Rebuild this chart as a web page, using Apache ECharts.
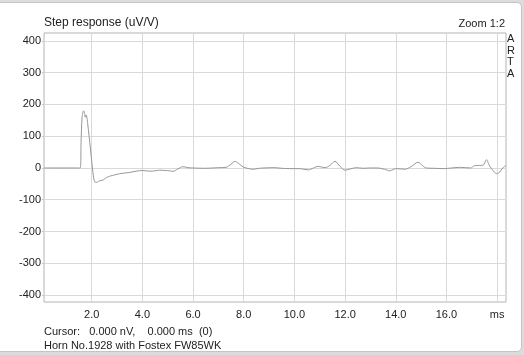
<!DOCTYPE html>
<html>
<head>
<meta charset="utf-8">
<script src="https://cdn.jsdelivr.net/npm/echarts@6/dist/echarts.min.js"></script>
<style>
  html, body { margin: 0; padding: 0; background: #dcdcdc; }
  #panel { position: absolute; left: -6px; top: 2px; width: 526px; height: 348px;
           background: #fff; border: 1px solid #c4c4c4; border-radius: 5px; }
  #main { position: absolute; left: 0; top: 0; width: 524px; height: 355px; }
</style>
</head>
<body>
<div id="panel"></div>
<div id="main"></div>
<script>
// step response, time in ms / amplitude in uV/V
var times = [0.117, 1.55, 1.58, 1.62, 1.68, 1.72, 1.74, 1.78, 1.84, 1.95, 2.05, 2.12, 2.2, 2.32, 2.45, 2.58,
  2.75, 2.9, 3.1, 3.3, 3.5, 3.76, 4.0, 4.29, 4.5, 4.68, 4.9, 5.08, 5.2, 5.4, 5.6, 5.8, 6.0, 6.5, 7.0, 7.3,
  7.5, 7.65, 7.8, 7.98, 8.2, 8.37, 8.6, 8.8, 9.2, 9.5, 9.8, 10.2, 10.55, 10.75, 10.94, 11.2, 11.4, 11.6,
  11.8, 12.0, 12.2, 12.45, 12.7, 12.97, 13.3, 13.55, 13.77, 14.0, 14.36, 14.6, 14.88, 15.05, 15.2, 15.5,
  15.9, 16.2, 16.55, 16.95, 17.1, 17.3, 17.45, 17.58, 17.68, 17.78, 17.9, 17.98, 18.1, 18.2, 18.35];
var values = [0, 0, 80, 160, 180, 172, 160, 167, 140, 60, -15, -44, -45, -40, -38, -30,
  -25, -22, -18, -16, -14, -10, -8, -10, -9, -7, -8, -9, -11, -3, 4, 1, 0, -1, 1, 2,
  12, 21, 14, 3, -2, -4, -1, 0, 1, -1, -2, -2, -6, 0, 5, 1, 8, 21,
  5, -7, -3, 1, -1, 0, 0, -4, -9, -2, -4, 4, 18, 8, 0, -1,
  -2, 0, 2, 0, 7, 8, 9, 26, 10, -2, -14, -18, -13, -2, 8];
var xTicks = [2, 4, 6, 8, 10, 12, 14, 16, 18];
var yTicks = [-400, -300, -200, -100, 0, 100, 200, 300, 400];

var myChart = echarts.init(document.getElementById('main'));
var font = '"Liberation Sans", Arial, sans-serif';
myChart.setOption({
  animation: false,
  backgroundColor: 'transparent',
  grid: {
    left: 44, top: 33, right: 18, bottom: 53,
    show: true, borderColor: '#b4b4b4', borderWidth: 1,
    outerBoundsMode: 'none'
  },
  xAxis: {
    type: 'value', min: 0.117, max: 18.35,
    axisLine: { show: false },
    axisTick: { show: false, customValues: xTicks },
    splitLine: { show: true, lineStyle: { color: '#d9d9d9', width: 1 } },
    axisLabel: {
      customValues: xTicks, margin: 7, color: '#222', fontSize: 11, fontFamily: font,
      formatter: function (v) { return v === 18 ? 'ms' : v.toFixed(1); }
    }
  },
  yAxis: {
    type: 'value', min: -422, max: 425,
    axisLine: { show: false },
    axisTick: { show: true, length: 2, customValues: yTicks, lineStyle: { color: '#c8c8c8' } },
    splitLine: { show: true, lineStyle: { color: '#d9d9d9', width: 1 } },
    axisLabel: { customValues: yTicks, margin: 3, color: '#222', fontSize: 11, fontFamily: font }
  },
  series: [{
    type: 'line',
    data: times.map(function (t, i) { return [t, values[i]]; }),
    showSymbol: false,
    smooth: 0.3,
    lineStyle: { color: '#969696', width: 1 }
  }],
  graphic: [
    { type: 'text', left: 44, top: 17, style: { text: 'Step response (uV/V)', fontSize: 12, fontFamily: font, fill: '#222' } },
    { type: 'text', right: 19, top: 18, style: { text: 'Zoom 1:2', fontSize: 11, fontFamily: font, fill: '#222' } },
    { type: 'text', left: 507, top: 33, style: { text: 'A\nR\nT\nA', fontSize: 11, lineHeight: 11.7, fontFamily: font, fill: '#222' } },
    { type: 'text', left: 44, top: 326, style: { text: 'Cursor:   0.000 nV,    0.000 ms  (0)', fontSize: 11, fontFamily: font, fill: '#222' } },
    { type: 'text', left: 44, top: 340, style: { text: 'Horn No.1928 with Fostex FW85WK', fontSize: 11, fontFamily: font, fill: '#222' } }
  ]
});
</script>
</body>
</html>
